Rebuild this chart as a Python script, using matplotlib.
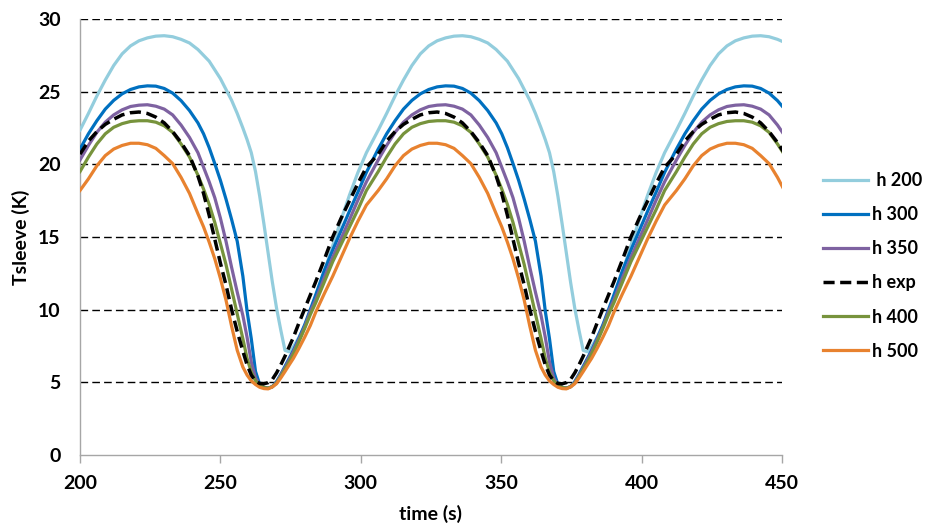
import matplotlib
matplotlib.use("Agg")
import matplotlib.pyplot as plt

plt.rcParams["font.family"] = ["Lato", "DejaVu Sans"]
plt.rcParams["font.weight"] = "bold"

# time points (s)
time_s = [
    200, 203, 206, 209, 212, 215, 218, 221, 224, 227, 230, 233, 236, 239, 242,
    244, 246, 248, 250, 252, 254, 256, 258, 259.5, 261, 262.5, 264, 265.5, 267,
    268.5, 270, 271.5, 273, 274.5, 276, 278, 280, 282, 284, 287, 290, 293, 296,
    299, 302,
    306.2, 309.2, 312.2, 315.2, 318.2, 321.2, 324.2, 327.2, 330.2, 333.2, 336.2,
    339.2, 342.2, 345.2, 348.2, 350.2, 352.2, 354.2, 356.2, 358.2, 360.2, 362.2,
    364.2, 365.7, 367.2, 368.7, 370.2, 371.7, 373.2, 374.7, 376.2, 377.7, 379.2,
    380.7, 382.2, 384.2, 386.2, 388.2, 390.2, 393.2, 396.2, 399.2, 402.2, 405.2,
    408.2,
    412.4, 415.4, 418.4, 421.4, 424.4, 427.4, 430.4, 433.4, 436.4, 439.4, 442.4,
    445.4, 448.4, 451.4,
]

h200 = [
    22.35, 23.5, 24.7, 25.8, 26.8, 27.6, 28.15, 28.5, 28.7, 28.82, 28.85, 28.78, 28.6, 28.35, 27.9,
    27.5, 27.1, 26.5, 25.9, 25.15, 24.4, 23.5, 22.5, 21.7, 20.8, 19.5, 17.8, 15.9, 13.9,
    11.9, 10.1, 8.6, 7.2, 7.1, 7.45, 8.1, 8.9, 9.8, 10.9, 12.6, 14.4, 16.2, 17.9,
    19.45, 20.8,
    22.35, 23.5, 24.7, 25.8, 26.8, 27.6, 28.15, 28.5, 28.7, 28.82, 28.85, 28.78, 28.6, 28.35, 27.9,
    27.5, 27.1, 26.5, 25.9, 25.15, 24.4, 23.5, 22.5, 21.7, 20.8, 19.5, 17.8, 15.9, 13.9,
    11.9, 10.1, 8.6, 7.2, 7.1, 7.45, 8.1, 8.9, 9.8, 10.9, 12.6, 14.4, 16.2, 17.9,
    19.45, 20.8,
    22.35, 23.5, 24.7, 25.8, 26.8, 27.6, 28.15, 28.5, 28.7, 28.82, 28.85, 28.78, 28.6, 28.35,
]

h300 = [
    21.05, 22.1, 23.0, 23.8, 24.4, 24.85, 25.15, 25.33, 25.4, 25.38, 25.22, 24.9, 24.38, 23.7, 22.85,
    22.1, 21.15, 20.05, 18.9, 17.6, 16.2, 14.7, 12.3, 9.9, 8.0, 5.75, 4.85, 4.65, 4.6,
    4.7, 5.05, 5.55, 6.1, 6.65, 7.2, 8.05, 8.95, 10.0, 11.05, 12.7, 14.1, 15.45, 16.8,
    18.1, 19.45,
    21.05, 22.1, 23.0, 23.8, 24.4, 24.85, 25.15, 25.33, 25.4, 25.38, 25.22, 24.9, 24.38, 23.7, 22.85,
    22.1, 21.15, 20.05, 18.9, 17.6, 16.2, 14.7, 12.3, 9.9, 8.0, 5.75, 4.85, 4.65, 4.6,
    4.7, 5.05, 5.55, 6.1, 6.65, 7.2, 8.05, 8.95, 10.0, 11.05, 12.7, 14.1, 15.45, 16.8,
    18.1, 19.45,
    21.05, 22.1, 23.0, 23.8, 24.4, 24.85, 25.15, 25.33, 25.4, 25.38, 25.22, 24.9, 24.38, 23.7,
]

h350 = [
    20.3, 21.3, 22.2, 22.9, 23.4, 23.75, 23.98, 24.07, 24.1, 24.0, 23.8, 23.4, 22.7, 21.85, 20.8,
    19.8, 18.8, 17.7, 16.3, 14.7, 12.9, 11.2, 9.6, 8.1, 6.4, 5.3, 4.8, 4.65, 4.6,
    4.7, 5.0, 5.5, 6.0, 6.55, 7.1, 7.95, 8.8, 9.85, 10.7, 12.2, 13.6, 14.9, 16.2,
    17.55, 18.8,
    20.3, 21.3, 22.2, 22.9, 23.4, 23.75, 23.98, 24.07, 24.1, 24.0, 23.8, 23.4, 22.7, 21.85, 20.8,
    19.8, 18.8, 17.7, 16.3, 14.7, 12.9, 11.2, 9.6, 8.1, 6.4, 5.3, 4.8, 4.65, 4.6,
    4.7, 5.0, 5.5, 6.0, 6.55, 7.1, 7.95, 8.8, 9.85, 10.7, 12.2, 13.6, 14.9, 16.2,
    17.55, 18.8,
    20.3, 21.3, 22.2, 22.9, 23.4, 23.75, 23.98, 24.07, 24.1, 24.0, 23.8, 23.4, 22.7, 21.85,
]

h_exp = [
    20.7, 21.6, 22.25, 22.75, 23.1, 23.4, 23.55, 23.6, 23.5, 23.25, 22.85, 22.25, 21.5, 20.6, 19.2,
    18.0, 16.5, 14.85, 13.2, 11.7, 10.0, 8.5, 7.15, 6.2, 5.5, 5.1, 4.92, 4.9, 4.98,
    5.2, 5.65, 6.2, 6.8, 7.45, 8.1, 9.1, 10.05, 11.0, 11.95, 13.45, 15.0, 16.3, 17.5,
    18.7, 19.8,
    20.7, 21.6, 22.25, 22.75, 23.1, 23.4, 23.55, 23.6, 23.5, 23.25, 22.85, 22.25, 21.5, 20.6, 19.2,
    18.0, 16.5, 14.85, 13.2, 11.7, 10.0, 8.5, 7.15, 6.2, 5.5, 5.1, 4.92, 4.9, 4.98,
    5.2, 5.65, 6.2, 6.8, 7.45, 8.1, 9.1, 10.05, 11.0, 11.95, 13.45, 15.0, 16.3, 17.5,
    18.7, 19.8,
    20.7, 21.6, 22.25, 22.75, 23.1, 23.4, 23.55, 23.6, 23.5, 23.25, 22.85, 22.25, 21.5, 20.6,
]

h400 = [
    19.5, 20.5, 21.4, 22.1, 22.55, 22.8, 22.95, 23.0, 23.0, 22.9, 22.65, 22.2, 21.4, 20.5, 19.25,
    18.3, 17.25, 16.0, 14.55, 13.1, 11.4, 9.7, 8.0, 6.65, 5.7, 5.1, 4.8, 4.65, 4.6,
    4.7, 4.95, 5.4, 5.9, 6.4, 6.95, 7.8, 8.7, 9.65, 10.5, 11.9, 13.3, 14.5, 15.7,
    16.9, 18.2,
    19.5, 20.5, 21.4, 22.1, 22.55, 22.8, 22.95, 23.0, 23.0, 22.9, 22.65, 22.2, 21.4, 20.5, 19.25,
    18.3, 17.25, 16.0, 14.55, 13.1, 11.4, 9.7, 8.0, 6.65, 5.7, 5.1, 4.8, 4.65, 4.6,
    4.7, 4.95, 5.4, 5.9, 6.4, 6.95, 7.8, 8.7, 9.65, 10.5, 11.9, 13.3, 14.5, 15.7,
    16.9, 18.2,
    19.5, 20.5, 21.4, 22.1, 22.55, 22.8, 22.95, 23.0, 23.0, 22.9, 22.65, 22.2, 21.4, 20.5,
]

h500 = [
    18.2, 19.0, 19.9, 20.6, 21.05, 21.3, 21.45, 21.45, 21.35, 21.1, 20.6, 20.05, 19.1, 18.0, 16.6,
    15.7, 14.65, 13.5, 12.15, 10.65, 8.85, 7.2, 6.05, 5.5, 5.1, 4.85, 4.66, 4.57, 4.55,
    4.68, 4.9, 5.3, 5.74, 6.2, 6.65, 7.35, 8.1, 8.9, 9.85, 11.1, 12.3, 13.6, 14.9,
    16.1, 17.2,
    18.2, 19.0, 19.9, 20.6, 21.05, 21.3, 21.45, 21.45, 21.35, 21.1, 20.6, 20.05, 19.1, 18.0, 16.6,
    15.7, 14.65, 13.5, 12.15, 10.65, 8.85, 7.2, 6.05, 5.5, 5.1, 4.85, 4.66, 4.57, 4.55,
    4.68, 4.9, 5.3, 5.74, 6.2, 6.65, 7.35, 8.1, 8.9, 9.85, 11.1, 12.3, 13.6, 14.9,
    16.1, 17.2,
    18.2, 19.0, 19.9, 20.6, 21.05, 21.3, 21.45, 21.45, 21.35, 21.1, 20.6, 20.05, 19.1, 18.0,
]

labels = [" h 200", "h 300", "h 350", "h exp", "h 400", "h 500"]
x_ticks = [200, 250, 300, 350, 400, 450]
y_ticks = [0, 5, 10, 15, 20, 25, 30]

fig = plt.figure(figsize=(9.28, 5.28), dpi=100)
ax = fig.add_axes([80 / 928, 1 - 455 / 528, 702 / 928, 436 / 528])

# horizontal dashed grid
for yv in y_ticks[1:]:
    ax.axhline(yv, color="black", lw=1.0, ls=(0, (5.5, 3)), zorder=1)

lw = 2.3
ax.plot(time_s, h200, color="#93CDDD", lw=lw, label=labels[0], zorder=3)
ax.plot(time_s, h300, color="#0070C0", lw=lw, label=labels[1], zorder=3)
ax.plot(time_s, h350, color="#7E62A1", lw=lw, label=labels[2], zorder=3)
(l_exp,) = ax.plot(time_s, h_exp, color="black", lw=2.5, label=labels[3], zorder=6)
l_exp.set_dashes([3.2, 1.6])
ax.plot(time_s, h400, color="#77933C", lw=lw, label=labels[4], zorder=4)
ax.plot(time_s, h500, color="#E8822F", lw=lw, label=labels[5], zorder=5)

ax.set_xlim(200, 450)
ax.set_ylim(0, 30)
ax.set_xticks(x_ticks)
ax.set_yticks(y_ticks)

for side in ["top", "right"]:
    ax.spines[side].set_visible(False)
for side in ["left", "bottom"]:
    ax.spines[side].set_color("#A6A6A6")
    ax.spines[side].set_linewidth(1.0)

ax.tick_params(axis="x", direction="out", length=5.5, width=1.0, color="#A6A6A6",
               pad=9, labelsize=14)
ax.tick_params(axis="y", length=0, pad=14, labelsize=14)

ax.set_xlabel("time (s)", fontsize=14, fontweight="bold", labelpad=9)
ax.set_ylabel("Tsleeve (K)", fontsize=14, fontweight="bold", labelpad=6)

fig.legend(loc="upper left", bbox_to_anchor=(823 / 928, 1 - 172 / 528),
           frameon=False, fontsize=13, handlelength=2.5, handletextpad=0.2,
           labelspacing=0.95, borderpad=0, borderaxespad=0)

fig.savefig("out.png", dpi=100)
